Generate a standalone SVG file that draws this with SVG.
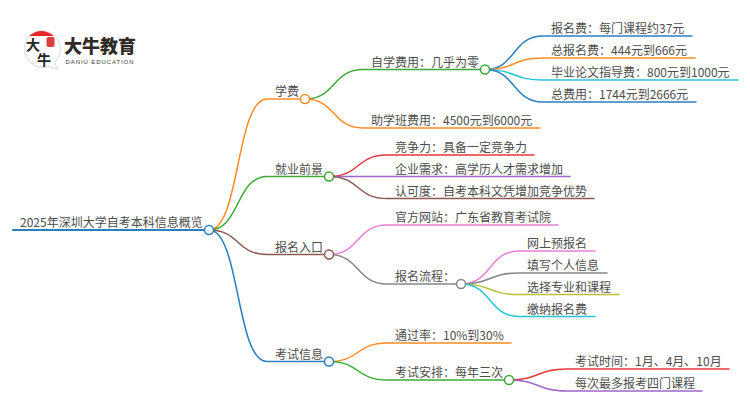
<svg xmlns="http://www.w3.org/2000/svg" width="750" height="410" viewBox="0 0 750 410">
<style>
text{font-family:"Noto Sans CJK SC","Noto Sans",sans-serif;font-size:12px;fill:#4d4d4d}
.c{fill:none;stroke-width:1.5;stroke-linecap:round}
.n{fill:#fff;stroke-width:1.5}
.o{stroke:#ff8c26}.g{stroke:#3aaa35}.b{stroke:#2a7fc1}.r{stroke:#e5383b}.p{stroke:#a066cc}.br{stroke:#8c5a50}.pk{stroke:#ea7fd2}.gy{stroke:#868686}.cy{stroke:#25c4d8}.y{stroke:#bcbd30}
</style>
<rect width="750" height="410" fill="#fff"/>
<g id="connectors">
<path class="c b" style="stroke-width:2" d="M13 230H209"/>
<path class="c o" d="M209 230C240 230 236 99 267 99H305"/>
<path class="c g" d="M209 230C240 230 236 176.500 267 176.500H329"/>
<path class="c br" d="M209 230C240 230 236 254.500 267 254.500H329"/>
<path class="c b" d="M209 230C240 230 236 361.500 267 361.500H329"/>
<path class="c g" d="M305 99C336 99 332 69.500 363 69.500H485"/>
<path class="c o" d="M305 99C336 99 332 128 363 128H540"/>
<path class="c b" d="M485 69.500C516 69.500 512 36 543 36H692"/>
<path class="c o" d="M485 69.500C516 69.500 512 58 543 58H695"/>
<path class="c cy" d="M485 69.500C516 69.500 512 80 543 80H738"/>
<path class="c b" d="M485 69.500C516 69.500 512 102 543 102H696"/>
<path class="c r" d="M329 176.500C360 176.500 356 155 387 155H534"/>
<path class="c p" d="M329 176.500H570"/>
<path class="c br" d="M329 176.500C360 176.500 356 198.500 387 198.500H594"/>
<path class="c pk" d="M329 254.500C360 254.500 356 225 387 225H558"/>
<path class="c gy" d="M329 254.500C360 254.500 356 284 387 284H461"/>
<path class="c pk" d="M461 284C492 284 488 251 519 251H595"/>
<path class="c gy" d="M461 284C492 284 488 273 519 273H607"/>
<path class="c y" d="M461 284C492 284 488 294.500 519 294.500H619"/>
<path class="c cy" d="M461 284C492 284 488 316.500 519 316.500H595"/>
<path class="c o" d="M329 361.500C360 361.500 356 343 387 343H511"/>
<path class="c g" d="M329 361.500C360 361.500 356 380 387 380H509"/>
<path class="c r" d="M509 380C540 380 536 369 567 369H729"/>
<path class="c p" d="M509 380C540 380 536 391 567 391H702"/>
</g>
<g id="logo">
<path d="M42 30.500A18.500 18.500 0 1 0 49 66.500Q54 69 58 69Q55 66 55 62A18.500 18.500 0 0 0 42 30.500Z" fill="#fff" stroke="#cfcfcf" stroke-width="0.800"/>
<path d="M29 36Q41 26 54 36Z" fill="#e8262a"/>
<rect x="46.500" y="37" width="8" height="10" rx="2" fill="#d9403f"/>
<text x="26" y="50" style="font-size:14px;font-weight:700;fill:#222">大</text>
<text x="37" y="65" style="font-size:14px;font-weight:700;fill:#222">牛</text>
<text x="64" y="53" style="font-size:18px;font-weight:900;fill:#2f2a28" textLength="72">大牛教育</text>
<text x="65.500" y="64" style="font-size:6px;font-weight:500;fill:#3a3a3a;font-family:'Liberation Sans',sans-serif" textLength="68">DANIU EDUCATION</text>
</g>
<g id="root"><text x="20" y="227">2025年深圳大学自考本科信息概览</text><circle class="n b" cx="209" cy="230" r="4.500"/></g>
<g id="n-xuefei"><text x="275" y="96">学费</text><circle class="n o" cx="305" cy="99" r="4.500"/></g>
<g id="n-jiuye"><text x="275" y="173.500">就业前景</text><circle class="n g" cx="329" cy="176.500" r="4.500"/></g>
<g id="n-baoming"><text x="275" y="251.500">报名入口</text><circle class="n br" cx="329" cy="254.500" r="4.500"/></g>
<g id="n-kaoshi"><text x="275" y="358.500">考试信息</text><circle class="n b" cx="329" cy="361.500" r="4.500"/></g>
<g id="n-zixue"><text x="371" y="66.500">自学费用：几乎为零</text><circle class="n g" cx="485" cy="69.500" r="4.500"/></g>
<g id="n-zhuxue"><text x="371" y="125">助学班费用：4500元到6000元</text></g>
<g id="n-f1"><text x="551" y="33">报名费：每门课程约37元</text></g>
<g id="n-f2"><text x="551" y="55">总报名费：444元到666元</text></g>
<g id="n-f3"><text x="551" y="77">毕业论文指导费：800元到1000元</text></g>
<g id="n-f4"><text x="551" y="99">总费用：1744元到2666元</text></g>
<g id="n-j1"><text x="395" y="152">竞争力：具备一定竞争力</text></g>
<g id="n-j2"><text x="395" y="173.500">企业需求：高学历人才需求增加</text></g>
<g id="n-j3"><text x="395" y="195.500">认可度：自考本科文凭增加竞争优势</text></g>
<g id="n-b1"><text x="395" y="222">官方网站：广东省教育考试院</text></g>
<g id="n-b2"><text x="395" y="281">报名流程：</text><circle class="n gy" cx="461" cy="284" r="4.500"/></g>
<g id="n-l1"><text x="527" y="248">网上预报名</text></g>
<g id="n-l2"><text x="527" y="270">填写个人信息</text></g>
<g id="n-l3"><text x="527" y="291.500">选择专业和课程</text></g>
<g id="n-l4"><text x="527" y="313.500">缴纳报名费</text></g>
<g id="n-k1"><text x="395" y="340">通过率：10%到30%</text></g>
<g id="n-k2"><text x="395" y="377">考试安排：每年三次</text><circle class="n g" cx="509" cy="380" r="4.500"/></g>
<g id="n-k3"><text x="575" y="366">考试时间：1月、4月、10月</text></g>
<g id="n-k4"><text x="575" y="388">每次最多报考四门课程</text></g>
</svg>
